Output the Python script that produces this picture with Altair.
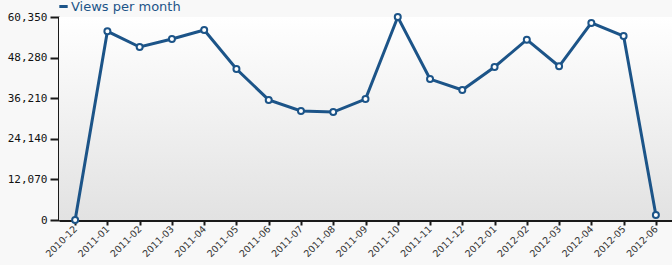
import altair as alt
import pandas as pd

months = ["2010-12", "2011-01", "2011-02", "2011-03", "2011-04", "2011-05", "2011-06",
          "2011-07", "2011-08", "2011-09", "2011-10", "2011-11", "2011-12", "2012-01",
          "2012-02", "2012-03", "2012-04", "2012-05", "2012-06"]
views = [0, 56100, 51430, 53800, 56500, 44900, 35700, 32400, 32100, 35950, 60350,
         41900, 38650, 45500, 53600, 45700, 58600, 54700, 1500]
y_ticks = [0, 12070, 24140, 36210, 48280, 60350]
series_name = "Views per month"

df = pd.DataFrame({"month": months, "views": views, "series": series_name})

W, H = 613, 203
LINE = "#1c5488"

bg = alt.Chart(pd.DataFrame({"a": [0]})).mark_rect(
    color={"gradient": "linear", "x1": 0, "y1": 0, "x2": 0, "y2": 1,
           "stops": [{"offset": 0, "color": "#ffffff"}, {"offset": 1, "color": "#e2e2e2"}]}
).encode(x=alt.value(0), x2=alt.value(W), y=alt.value(0), y2=alt.value(H))

x_enc = alt.X("month:O", sort=months,
              scale=alt.Scale(type="point", padding=0.5),
              axis=alt.Axis(title=None, labelAngle=-45, labelAlign="right", labelBaseline="middle",
                            labelFontSize=9.5, labelColor="#333333", labelFont="DejaVu Sans",
                            grid=True, gridColor="#dde8f7", gridWidth=1,
                            domainColor="#1a1a1a", domainWidth=3,
                            tickColor="#1a1a1a", tickWidth=2, tickSize=5, labelPadding=2))
y_enc = alt.Y("views:Q", scale=alt.Scale(domain=[0, 60350], nice=False, zero=True),
              axis=alt.Axis(title=None, values=y_ticks,
                            labelExpr="format(datum.value, ',')",
                            labelFontSize=11, labelColor="#111111", labelFont="DejaVu Sans Mono",
                            grid=True, gridColor="#dde8f7", gridWidth=1,
                            domainColor="#1a1a1a", domainWidth=3,
                            tickColor="#1a1a1a", tickWidth=2, tickSize=9, labelPadding=3))

line = alt.Chart(df).mark_line(
    strokeWidth=3,
    point=alt.OverlayMarkDef(filled=True, fill="white", stroke=LINE, strokeWidth=2, size=36)
).encode(
    x=x_enc, y=y_enc,
    color=alt.Color("series:N", scale=alt.Scale(range=[LINE]),
                    legend=alt.Legend(title=None, orient="none", legendX=-2, legendY=-17,
                                      symbolType="stroke", symbolStrokeWidth=3, symbolSize=70,
                                      labelFontSize=13, labelColor=LINE, labelFont="DejaVu Sans",
                                      labelOffset=1, padding=0))
)

chart = alt.layer(bg, line).properties(
    width=W, height=H,
    background="#f8f8f8",
    padding={"left": 59, "top": 17, "right": 0, "bottom": 45},
    autosize=alt.AutoSizeParams(type="none")
).configure_view(strokeWidth=0)

chart.save("out.html", embed_options={"renderer": "svg", "actions": False})
